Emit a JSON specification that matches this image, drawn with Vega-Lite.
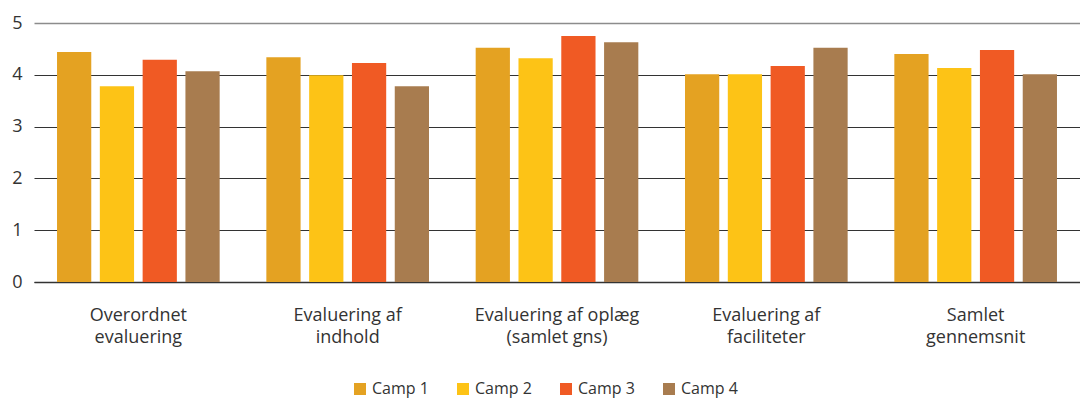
{
  "$schema": "https://vega.github.io/schema/vega-lite/v6.json",
  "width": 1046,
  "height": 259,
  "autosize": {"type": "none"},
  "padding": {"left": 34, "top": 23, "right": 0, "bottom": 116},
  "config": {"view": {"stroke": null}, "font": "Open Sans"},
  "data": {
    "values": [
      {"kategori": "Overordnet|evaluering", "camp": "Camp 1", "score": 4.44},
      {"kategori": "Overordnet|evaluering", "camp": "Camp 2", "score": 3.78},
      {"kategori": "Overordnet|evaluering", "camp": "Camp 3", "score": 4.29},
      {"kategori": "Overordnet|evaluering", "camp": "Camp 4", "score": 4.07},
      {"kategori": "Evaluering af|indhold", "camp": "Camp 1", "score": 4.34},
      {"kategori": "Evaluering af|indhold", "camp": "Camp 2", "score": 3.99},
      {"kategori": "Evaluering af|indhold", "camp": "Camp 3", "score": 4.23},
      {"kategori": "Evaluering af|indhold", "camp": "Camp 4", "score": 3.78},
      {"kategori": "Evaluering af oplæg|(samlet gns)", "camp": "Camp 1", "score": 4.52},
      {"kategori": "Evaluering af oplæg|(samlet gns)", "camp": "Camp 2", "score": 4.32},
      {"kategori": "Evaluering af oplæg|(samlet gns)", "camp": "Camp 3", "score": 4.75},
      {"kategori": "Evaluering af oplæg|(samlet gns)", "camp": "Camp 4", "score": 4.63},
      {"kategori": "Evaluering af|faciliteter", "camp": "Camp 1", "score": 4.01},
      {"kategori": "Evaluering af|faciliteter", "camp": "Camp 2", "score": 4.01},
      {"kategori": "Evaluering af|faciliteter", "camp": "Camp 3", "score": 4.17},
      {"kategori": "Evaluering af|faciliteter", "camp": "Camp 4", "score": 4.52},
      {"kategori": "Samlet|gennemsnit", "camp": "Camp 1", "score": 4.40},
      {"kategori": "Samlet|gennemsnit", "camp": "Camp 2", "score": 4.13},
      {"kategori": "Samlet|gennemsnit", "camp": "Camp 3", "score": 4.48},
      {"kategori": "Samlet|gennemsnit", "camp": "Camp 4", "score": 4.01}
    ]
  },
  "mark": {"type": "bar"},
  "encoding": {
    "x": {
      "field": "kategori",
      "type": "nominal",
      "sort": null,
      "scale": {"paddingInner": 0.223, "paddingOuter": 0.11},
      "axis": {
        "title": null,
        "labelAngle": 0,
        "labelExpr": "split(datum.label, '|')",
        "labelFontSize": 18,
        "labelColor": "#333333",
        "labelPadding": 24,
        "labelLineHeight": 22,
        "labelBaseline": "top",
        "ticks": false,
        "domainColor": "#333333",
        "domainWidth": 1.5
      }
    },
    "xOffset": {"field": "camp", "scale": {"paddingInner": 0.2}},
    "y": {
      "field": "score",
      "type": "quantitative",
      "scale": {"domain": [0, 5]},
      "axis": {
        "title": null,
        "values": [0, 1, 2, 3, 4, 5],
        "domain": false,
        "ticks": false,
        "labelFontSize": 18,
        "labelColor": "#333333",
        "labelPadding": 12,
        "gridColor": {"condition": {"test": "datum.value == 5", "value": "#8c8c8c"}, "value": "#333333"},
        "gridWidth": {"condition": {"test": "datum.value == 5", "value": 1.5}, "value": 1.2},
        "gridOpacity": 1
      }
    },
    "color": {
      "field": "camp",
      "type": "nominal",
      "scale": {"domain": ["Camp 1", "Camp 2", "Camp 3", "Camp 4"], "range": ["#E4A222", "#FDC316", "#F05A24", "#A87C4F"]},
      "legend": {
        "orient": "none",
        "legendX": 318,
        "legendY": 358,
        "direction": "horizontal",
        "title": null,
        "symbolType": "square",
        "symbolSize": 144,
        "symbolOpacity": 1,
        "symbolStrokeWidth": 0,
        "labelFontSize": 16,
        "labelColor": "#333333",
        "columnPadding": 26
      }
    }
  }
}
